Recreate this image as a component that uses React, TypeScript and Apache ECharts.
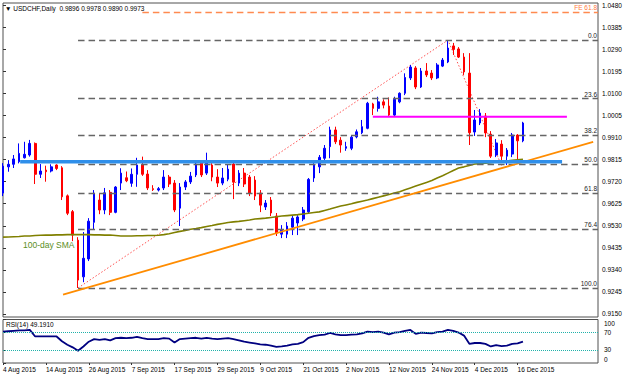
import React, { useEffect, useRef } from "react";
import * as echarts from "echarts";

// ---- x axis (trading-day index) ----
const tickBars = [0, 8, 16, 24, 32, 40, 48, 56, 64, 72, 80, 88, 96];
const tickDates = ["4 Aug 2015", "14 Aug 2015", "26 Aug 2015", "7 Sep 2015", "17 Sep 2015", "29 Sep 2015", "9 Oct 2015", "21 Oct 2015", "2 Nov 2015", "12 Nov 2015", "24 Nov 2015", "4 Dec 2015", "16 Dec 2015"];
const priceTicks = [0.915, 0.9245, 0.934, 0.9435, 0.953, 0.9625, 0.972, 0.9815, 0.991, 1.0005, 1.01, 1.0195, 1.029, 1.0385, 1.048];
const rsiTicks = [0, 30, 70, 100];

// ---- daily candles USDCHF ----
const open = [
  0.9671, 0.9784, 0.9795, 0.9806, 0.9823, 0.9835, 0.9885, 0.9752, 0.977, 0.9766,
  0.9792, 0.978, 0.9659, 0.9591, 0.9468, 0.931, 0.9387, 0.9545, 0.9641, 0.9598,
  0.9674, 0.9588, 0.9714, 0.9737, 0.9713, 0.9752, 0.9792, 0.9753, 0.969, 0.9684,
  0.9693, 0.974, 0.9714, 0.9606, 0.9697, 0.9719, 0.9749, 0.98, 0.9757, 0.9792,
  0.974, 0.9714, 0.9731, 0.9796, 0.9714, 0.9757, 0.974, 0.9727, 0.9671, 0.9611,
  0.9641, 0.9572, 0.9494, 0.9494, 0.9524, 0.9542, 0.9559, 0.959, 0.9736, 0.9784,
  0.9821, 0.9871, 0.9943, 0.9899, 0.9864, 0.9864, 0.9913, 0.9931, 0.995, 1.0055,
  1.0036, 1.0064, 1.0046, 1.0007, 1.0064, 1.0101, 1.0167, 1.021, 1.0128, 1.0197,
  1.0188, 1.0167, 1.0218, 1.0236, 1.0305, 1.0292, 1.0257, 1.0188, 0.9934, 0.9973,
  1.0003, 0.9925, 0.9835, 0.9882, 0.983, 0.9839, 0.9921, 0.9896,
];
const close = [
  0.9787, 0.9795, 0.9818, 0.9842, 0.9838, 0.9885, 0.9752, 0.9766, 0.9763, 0.9784,
  0.9777, 0.9655, 0.9584, 0.949, 0.9296, 0.939, 0.955, 0.967, 0.9598, 0.9672,
  0.9588, 0.9697, 0.9757, 0.9724, 0.9752, 0.9792, 0.9752, 0.9693, 0.9686, 0.969,
  0.974, 0.971, 0.9598, 0.9697, 0.9719, 0.9744, 0.9796, 0.9749, 0.98, 0.974,
  0.9714, 0.9736, 0.9774, 0.9718, 0.9757, 0.971, 0.9671, 0.9658, 0.9619, 0.9628,
  0.9585, 0.9499, 0.9511, 0.9529, 0.9563, 0.9568, 0.9598, 0.973, 0.9792, 0.9825,
  0.9864, 0.9943, 0.9892, 0.9878, 0.9871, 0.9912, 0.9935, 0.9957, 1.0058, 1.0036,
  1.0064, 1.005, 1.0007, 1.0075, 1.0101, 1.0169, 1.0214, 1.0128, 1.0197, 1.018,
  1.0167, 1.0223, 1.0244, 1.0296, 1.029, 1.0257, 1.0193, 0.9931, 0.9986, 1.0016,
  0.993, 0.983, 0.9887, 0.983, 0.9856, 0.9921, 0.9896, 0.9973,
];
const low = [
  0.9658, 0.9763, 0.9779, 0.9799, 0.982, 0.9828, 0.971, 0.9736, 0.972, 0.976,
  0.977, 0.9641, 0.9576, 0.9464, 0.9262, 0.9287, 0.9378, 0.9512, 0.958, 0.958,
  0.9576, 0.9584, 0.9684, 0.9718, 0.9698, 0.9698, 0.9745, 0.9684, 0.968, 0.9678,
  0.9684, 0.9697, 0.9589, 0.9529, 0.9684, 0.971, 0.974, 0.974, 0.9749, 0.9722,
  0.9697, 0.9705, 0.9722, 0.9645, 0.9701, 0.9697, 0.9658, 0.9641, 0.9589, 0.9598,
  0.9572, 0.9486, 0.9477, 0.9477, 0.949, 0.949, 0.955, 0.9585, 0.9719, 0.9757,
  0.9813, 0.9821, 0.9882, 0.9845, 0.9853, 0.9856, 0.9907, 0.9925, 0.9946, 1.0007,
  1.0022, 1.0036, 0.9999, 1.0003, 1.0058, 1.0093, 1.0158, 1.0119, 1.0124, 1.0171,
  1.0158, 1.0162, 1.0214, 1.0231, 1.0266, 1.0253, 1.018, 0.9878, 0.9917, 0.9964,
  0.9912, 0.9822, 0.9826, 0.9805, 0.9792, 0.9826, 0.9809, 0.989,
];
const high = [
  0.98, 0.9813, 0.9835, 0.9885, 0.9892, 0.99, 0.9889, 0.9796, 0.9789, 0.9795,
  0.9795, 0.9787, 0.9665, 0.9598, 0.9481, 0.9503, 0.9563, 0.9684, 0.9671, 0.9693,
  0.9684, 0.9701, 0.9778, 0.9764, 0.9777, 0.9823, 0.9828, 0.977, 0.9705, 0.9697,
  0.977, 0.9749, 0.9727, 0.9714, 0.9727, 0.9762, 0.9805, 0.9809, 0.9845, 0.98,
  0.9774, 0.9779, 0.9792, 0.9809, 0.977, 0.9779, 0.9749, 0.9744, 0.9684, 0.9641,
  0.9654, 0.9585, 0.9533, 0.9546, 0.9572, 0.9576, 0.9611, 0.9736, 0.98, 0.9835,
  0.9878, 0.9957, 0.9957, 0.9912, 0.9892, 0.9921, 0.9945, 0.9986, 1.0064, 1.006,
  1.0086, 1.0075, 1.0083, 1.0086, 1.0105, 1.0187, 1.0223, 1.0218, 1.021, 1.0231,
  1.0201, 1.0231, 1.0253, 1.033, 1.0318, 1.03, 1.0274, 1.0274, 1.0029, 1.0033,
  1.0016, 0.9938, 0.9904, 0.9899, 0.9865, 0.993, 0.9925, 0.9978,
];
const sma100 = [
  0.9481, 0.9482, 0.9483, 0.9484, 0.9486, 0.9486, 0.9488, 0.9489, 0.949, 0.949,
  0.9491, 0.9491, 0.9492, 0.9492, 0.9492, 0.9492, 0.9492, 0.9491, 0.9491, 0.949,
  0.949, 0.9488, 0.9486, 0.9486, 0.9486, 0.9487, 0.9487, 0.9488, 0.9488, 0.9489,
  0.9492, 0.9496, 0.9501, 0.9506, 0.951, 0.9515, 0.9518, 0.9522, 0.9527, 0.9531,
  0.9536, 0.954, 0.9544, 0.9547, 0.9549, 0.9552, 0.9555, 0.9559, 0.9561, 0.9563,
  0.9566, 0.9569, 0.9572, 0.9574, 0.9576, 0.9578, 0.9581, 0.9584, 0.9587, 0.959,
  0.9596, 0.9602, 0.9609, 0.9615, 0.962, 0.9625, 0.9631, 0.9636, 0.9641, 0.9647,
  0.9653, 0.9659, 0.9665, 0.9671, 0.9677, 0.9685, 0.9693, 0.9701, 0.9709, 0.9717,
  0.9725, 0.9736, 0.9746, 0.9757, 0.9768, 0.9779, 0.9784, 0.979, 0.9796, 0.9798,
  0.98, 0.9802, 0.9805, 0.9807, 0.9809, 0.9812, 0.9814, 0.9816,
];
const rsi14 = [
  72, 73, 74, 75, 75, 76, 61, 61, 61, 61,
  61, 50, 42, 36, 28, 38, 49, 55, 53, 55,
  52, 57, 58, 57, 58, 60, 57, 55, 55, 55,
  57, 56, 47, 55, 56, 57, 58, 56, 58, 56,
  55, 56, 57, 55, 52, 49, 47, 45, 43, 42,
  40, 37, 38, 40, 43, 44, 48, 58, 62, 64,
  65, 69, 66, 64, 64, 65, 66, 68, 72, 71,
  72, 70, 66, 70, 71, 74, 76, 67, 70, 69,
  68, 71, 72, 76, 74, 70, 63, 44, 46, 46,
  44, 38, 41, 39, 40, 44, 45, 49.191,
];

// ---- drawn objects (bar index, price) ----
const fibBars = [14, 83, 93];            // swing low, swing high, expansion point
const fibPrices = [0.9262, 1.033, 0.979];
const fibLevels = [0, 23.6, 38.2, 50, 61.8, 76.4, 100];
const feLevel = 61.8;
const feStartBar = 26;
const rayEndBar = 111;
const supportBars = [3.2, 104.3];
const supportPrice = 0.9806;
const resistBars = [69, 105.2];
const resistPrice = 1.0;
const trendBars = [11.2, 110.1];
const trendPrices = [0.9233, 0.9892];

const FONT = "'Liberation Sans', Arial, sans-serif";

export default function App() {
  const ref = useRef<HTMLDivElement>(null);
  useEffect(() => {
    if (!ref.current) return;
    const chart = echarts.init(ref.current, undefined, { renderer: "svg" });
    const last = open.length - 1;
    const lo = fibPrices[0], hi = fibPrices[1], cpt = fibPrices[2];
    const range = hi - lo;
    const fibLines: any[] = fibLevels.map((r) => {
      const p = hi - (r / 100) * range;
      return [
        {
          coord: [fibBars[0], p],
          lineStyle: { color: "#666666", type: [6.5, 4], width: 1.3 },
          label: { show: true, position: "insideEndTop", formatter: r.toFixed(1), color: "#222", fontSize: 6.5, fontFamily: FONT, distance: [1, 1] },
        },
        { coord: [rayEndBar, p] },
      ];
    });
    const feP = cpt + (feLevel / 100) * range;
    fibLines.push([
      {
        coord: [feStartBar, feP],
        lineStyle: { color: "#ff8a50", type: [6.5, 4], width: 1.3 },
        label: { show: true, position: "insideEndTop", formatter: "FE " + feLevel.toFixed(1), color: "#ff7a40", fontSize: 6.5, fontFamily: FONT, distance: [1, 1] },
      },
      { coord: [rayEndBar, feP] },
    ]);

    const option: any = {
      animation: false,
      backgroundColor: "#ffffff",
      textStyle: { fontFamily: FONT },
      title: [
        {
          text: `▼ USDCHF,Daily  ${open[last].toFixed(4)} ${high[last].toFixed(4)} ${low[last].toFixed(4)} ${close[last].toFixed(4)}`,
          left: 5, top: 5, padding: 0,
          textStyle: { fontSize: 6.5, fontWeight: "normal", color: "#000", fontFamily: FONT },
        },
        {
          text: `RSI(14) ${rsi14[last].toFixed(4)}`,
          left: 6, top: 321, padding: 0,
          textStyle: { fontSize: 6.5, fontWeight: "normal", color: "#000", fontFamily: FONT },
        },
      ],
      graphic: [
        { type: "text", left: 23, top: 240, style: { text: "100-day SMA", fill: "#5b8e1e", font: `8.5px ${FONT}` } },
      ],
      grid: [
        { left: 3, top: 3, width: 595, height: 314, show: true, borderColor: "#505050", borderWidth: 1 },
        { left: 3, top: 319.5, width: 595, height: 43.5, show: true, borderColor: "#505050", borderWidth: 1 },
      ],
      xAxis: [
        { type: "value", gridIndex: 0, min: 0, max: rayEndBar, axisLine: { show: false }, axisTick: { show: false }, axisLabel: { show: false }, splitLine: { show: false } },
        {
          type: "value", gridIndex: 1, min: 0, max: rayEndBar,
          axisLine: { show: false },
          axisTick: { show: true, customValues: tickBars, length: 2, lineStyle: { color: "#333" } },
          axisLabel: {
            customValues: tickBars, align: "left", margin: 3, fontSize: 6.5, color: "#000", fontFamily: FONT,
            formatter: (v: number) => tickDates[tickBars.indexOf(Math.round(v))] ?? "",
          },
          splitLine: { show: false },
        },
      ],
      yAxis: [
        {
          type: "value", gridIndex: 0, position: "right", min: 0.9137, max: 1.049,
          axisLine: { show: false },
          axisTick: { show: true, customValues: priceTicks, length: 3, lineStyle: { color: "#333" } },
          axisLabel: { customValues: priceTicks, formatter: (v: number) => v.toFixed(4), fontSize: 6.5, margin: 4, color: "#000", fontFamily: FONT },
          splitLine: { show: false },
        },
        {
          type: "value", gridIndex: 1, position: "right", min: 0, max: 100,
          axisLine: { show: false },
          axisTick: { show: true, customValues: rsiTicks, length: 3, lineStyle: { color: "#333" } },
          axisLabel: { customValues: rsiTicks, fontSize: 6.5, margin: 6, color: "#000", fontFamily: FONT, verticalAlignMaxLabel: "top", verticalAlignMinLabel: "bottom" },
          splitLine: { show: false },
        },
      ],
      series: [
        {
          type: "line", xAxisIndex: 0, yAxisIndex: 0, z: 1, symbol: "none", silent: true,
          data: fibBars.map((b, i) => [b, fibPrices[i]]),
          lineStyle: { color: "#ff5050", type: [1.5, 2], width: 1 },
          markLine: { symbol: "none", silent: true, data: fibLines },
        },
        {
          type: "candlestick", xAxisIndex: 0, yAxisIndex: 0, z: 3, barWidth: 2.2,
          data: open.map((o, i) => [i, o, close[i], low[i], high[i]]),
          itemStyle: { color: "#0000ff", color0: "#ff0000", borderColor: "#0000ff", borderColor0: "#ff0000", borderWidth: 1 },
          markLine: {
            symbol: "none", silent: true,
            data: [{ yAxis: close[last] }],
            lineStyle: { opacity: 0 },
            label: { show: true, position: "end", distance: 3, formatter: close[last].toFixed(4), backgroundColor: "#000", color: "#fff", padding: [1, 2, 1, 2], fontSize: 6.5, fontFamily: FONT },
          },
        },
        {
          type: "line", xAxisIndex: 0, yAxisIndex: 0, z: 4, symbol: "none", silent: true,
          data: sma100.map((v, i) => [i, v]),
          lineStyle: { color: "#808000", width: 1.6 },
        },
        {
          type: "line", xAxisIndex: 0, yAxisIndex: 0, z: 5, symbol: "none", silent: true,
          data: trendBars.map((b, i) => [b, trendPrices[i]]),
          lineStyle: { color: "#ff8c00", width: 1.8 },
        },
        {
          type: "line", xAxisIndex: 0, yAxisIndex: 0, z: 5, symbol: "none", silent: true,
          data: supportBars.map((b) => [b, supportPrice]),
          lineStyle: { color: "#2f8fea", width: 3.5 },
        },
        {
          type: "line", xAxisIndex: 0, yAxisIndex: 0, z: 5, symbol: "none", silent: true,
          data: resistBars.map((b) => [b, resistPrice]),
          lineStyle: { color: "#ff00ff", width: 2 },
        },
        {
          type: "line", xAxisIndex: 1, yAxisIndex: 1, z: 4, symbol: "none", silent: true,
          data: rsi14.map((v, i) => [i, v]),
          lineStyle: { color: "#000080", width: 1.8 },
          markLine: {
            symbol: "none", silent: true,
            data: [{ yAxis: 70 }, { yAxis: 30 }],
            lineStyle: { color: "#20b2aa", type: "dotted", width: 1 },
            label: { show: false },
          },
        },
      ],
    };
    chart.setOption(option);
    return () => chart.dispose();
  }, []);
  return (
    <div
      ref={ref}
      style={{ position: "fixed", left: 0, top: 0, width: 630, height: 376, background: "#fff" }}
    />
  );
}
